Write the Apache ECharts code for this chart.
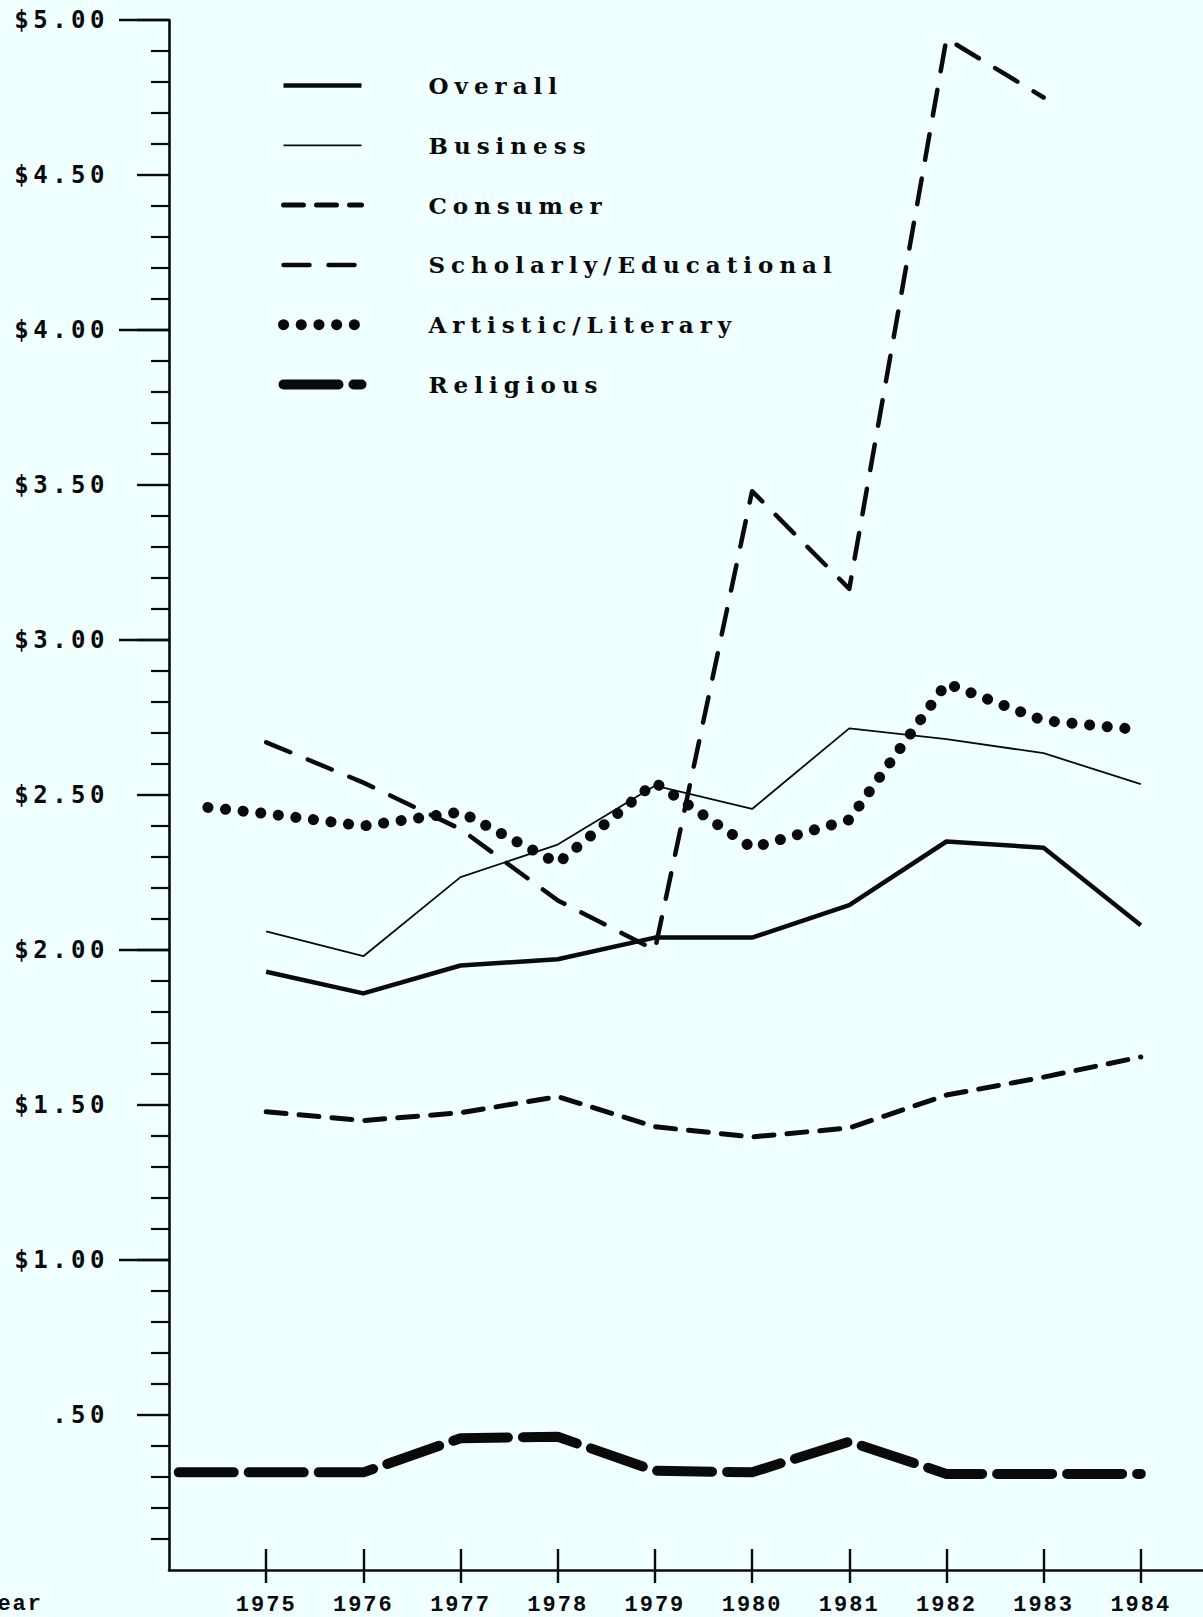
<!DOCTYPE html>
<html>
<head>
<meta charset="utf-8">
<script src="https://cdn.jsdelivr.net/npm/echarts@6/dist/echarts.min.js"></script>
<style>
html,body{margin:0;padding:0;background:#F0FFFF;}
#chart{width:1203px;height:1617px;}
</style>
</head>
<body>
<div id="chart"></div>
<script>
// ---- data ----
const years = [1975, 1976, 1977, 1978, 1979, 1980, 1981, 1982, 1983, 1984];
const overall   = [1.93, 1.86, 1.95, 1.97, 2.04, 2.04, 2.145, 2.35, 2.33, 2.08];
const business  = [2.06, 1.98, 2.235, 2.34, 2.53, 2.455, 2.715, 2.68, 2.635, 2.535];
const consumer  = [1.478, 1.45, 1.475, 1.527, 1.43, 1.397, 1.426, 1.532, 1.59, 1.655];
const scholarly = [2.67, 2.54, 2.39, 2.16, 2.0, 3.48, 3.165, 4.94, 4.75, null];
const artistic  = [2.44, 2.40, 2.445, 2.28, 2.54, 2.33, 2.42, 2.86, 2.74, 2.71];
const religious = [0.315, 0.315, 0.425, 0.43, 0.32, 0.315, 0.414, 0.31, 0.31, 0.31];
// lines that begin before 1975 (start point on the left)
const artisticLead  = [1974.4, 2.46];
const religiousLead = [1974.1, 0.315];

const seriesNames = ['Overall', 'Business', 'Consumer', 'Scholarly/Educational', 'Artistic/Literary', 'Religious'];
const yTickValues = [0.5, 1, 1.5, 2, 2.5, 3, 3.5, 4, 4.5, 5];
const yDollarValues = [1, 2, 3, 4, 5];

function pairs(vals, lead) {
  const out = lead ? [lead.slice()] : [];
  years.forEach((y, i) => { if (vals[i] != null) out.push([y, vals[i]]); });
  return out;
}

const INK = '#0a0a0a';
const chart = echarts.init(document.getElementById('chart'), null, {renderer: 'svg'});

const baseY = {
  type: 'value', min: 0, max: 5, position: 'left',
  splitLine: {show: false}
};
const baseX = {
  type: 'value', min: 1974, max: 1984.64, position: 'bottom',
  splitLine: {show: false}
};

function lineSeries(name, data, lineStyle) {
  return {name: name, type: 'line', symbol: 'none', data: data,
    itemStyle: {color: INK}, lineStyle: Object.assign({color: INK, join: 'round'}, lineStyle)};
}

const option = {
  backgroundColor: '#F0FFFF',
  animation: false,
  grid: {left: 169, right: 0, top: 20, bottom: 47, outerBoundsMode: 'none', containLabel: false},
  legend: {
    orient: 'vertical', left: 273, top: 69,
    itemWidth: 78, itemHeight: 20, itemGap: 36.8,
    selectedMode: false,
    data: seriesNames,
    itemStyle: {opacity: 0},
    lineStyle: {width: 'inherit', type: 'inherit', cap: 'inherit', color: INK},
    textStyle: {fontFamily: 'DejaVu Serif', fontWeight: 'bold', fontSize: 23, color: INK, padding: [0, 0, 0, 62]}
  },
  xAxis: [
    Object.assign({}, baseX, {
      name: 'Year', nameLocation: 'start', nameGap: 126,
      nameTextStyle: {fontFamily: 'Liberation Mono', fontWeight: 'bold', fontSize: 22, color: INK, align: 'right', verticalAlign: 'top', lineHeight: 68},
      axisLine: {show: true, lineStyle: {color: INK, width: 2.6}},
      axisTick: {show: true, inside: true, length: 21, lineStyle: {color: INK, width: 2.4}, customValues: years},
      axisLabel: {show: true, margin: 24, customValues: years, formatter: v => String(v),
        fontFamily: 'Liberation Mono', fontWeight: 'bold', fontSize: 22, color: INK}
    }),
    Object.assign({}, baseX, {
      axisLine: {show: false},
      axisTick: {show: true, inside: false, length: 13, lineStyle: {color: INK, width: 2.4}, customValues: years},
      axisLabel: {show: false}
    })
  ],
  yAxis: [
    Object.assign({}, baseY, {
      interval: 0.5,
      axisLine: {show: true, lineStyle: {color: INK, width: 2.6}},
      axisTick: {show: true, length: 32, lineStyle: {color: INK, width: 2.4}, customValues: yTickValues},
      minorTick: {show: true, splitNumber: 5, length: 18, lineStyle: {color: INK, width: 2.2}},
      axisLabel: {show: true, margin: 60, customValues: yTickValues,
        formatter: v => (v < 1 ? '.' + (v * 100).toFixed(0) : '$' + v.toFixed(2)),
        fontFamily: 'DejaVu Sans Mono', fontWeight: 'bold', fontSize: 24, color: INK}
    }),
    Object.assign({}, baseY, {
      interval: 1,
      axisLine: {show: false},
      axisTick: {show: true, length: 50, lineStyle: {color: INK, width: 2.4}, customValues: yDollarValues},
      axisLabel: {show: false}
    })
  ],
  series: [
    lineSeries('Overall', pairs(overall), {width: 4.5}),
    lineSeries('Business', pairs(business), {width: 1.8}),
    lineSeries('Consumer', pairs(consumer), {width: 5, type: [20, 13], cap: 'round'}),
    lineSeries('Scholarly/Educational', pairs(scholarly), {width: 4.5, type: [26, 19], cap: 'round'}),
    lineSeries('Artistic/Literary', pairs(artistic, artisticLead), {width: 11, type: [0.1, 17.6], cap: 'round'}),
    lineSeries('Religious', pairs(religious, religiousLead), {width: 10, type: [55, 15], cap: 'round'})
  ]
};
chart.setOption(option);

function applySpacing() {
  document.querySelectorAll('#chart svg text').forEach(t => {
    const ff = getComputedStyle(t).fontFamily || '';
    if (ff.indexOf('DejaVu Serif') >= 0) t.style.letterSpacing = '6px';
    else if (ff.indexOf('DejaVu Sans Mono') >= 0) t.style.letterSpacing = '4.5px';
    else if (ff.indexOf('Liberation Mono') >= 0) t.style.letterSpacing = '2px';
  });
}
chart.on('finished', applySpacing);
applySpacing();
</script>
</body>
</html>
